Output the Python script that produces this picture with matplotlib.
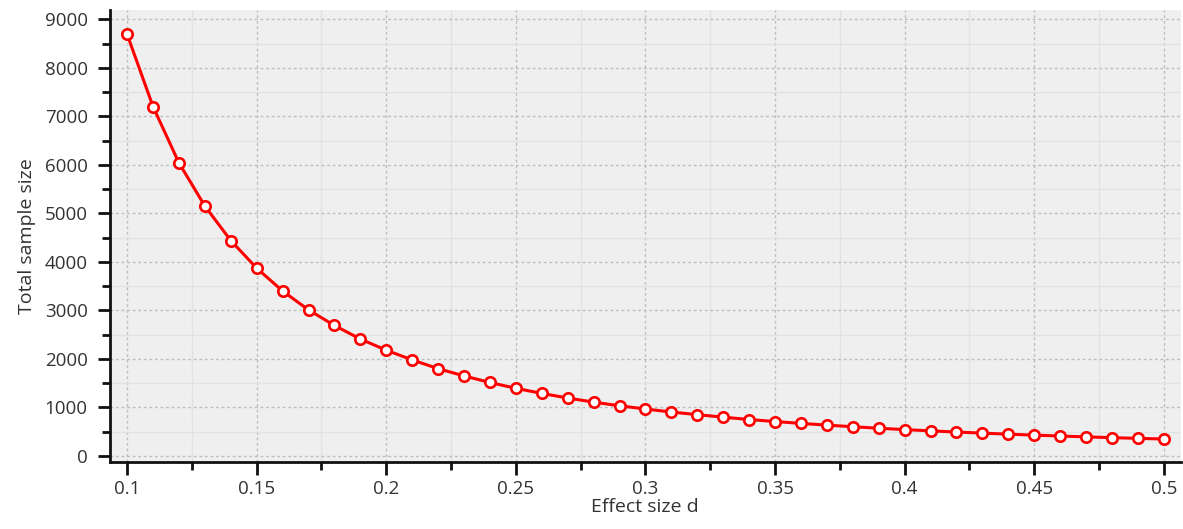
import matplotlib

matplotlib.use("Agg")
import matplotlib.pyplot as plt
from matplotlib.ticker import MultipleLocator

# values (G*Power style curve)
effect_size = [0.10, 0.11, 0.12, 0.13, 0.14, 0.15, 0.16, 0.17, 0.18, 0.19,
               0.20, 0.21, 0.22, 0.23, 0.24, 0.25, 0.26, 0.27, 0.28, 0.29,
               0.30, 0.31, 0.32, 0.33, 0.34, 0.35, 0.36, 0.37, 0.38, 0.39,
               0.40, 0.41, 0.42, 0.43, 0.44, 0.45, 0.46, 0.47, 0.48, 0.49,
               0.50]
total_n = [8690, 7200, 6040, 5150, 4440, 3870, 3400, 3010, 2690, 2410,
           2180, 1980, 1800, 1650, 1515, 1395, 1290, 1195, 1110, 1035,
           968, 906, 852, 800, 752, 710, 672, 636, 603, 572,
           544, 518, 494, 471, 450, 430, 412, 394, 378, 363,
           350]
x_ticks = [0.1, 0.15, 0.2, 0.25, 0.3, 0.35, 0.4, 0.45, 0.5]
x_labels = ["0.1", "0.15", "0.2", "0.25", "0.3", "0.35", "0.4", "0.45", "0.5"]

plt.rcParams["font.family"] = ["Open Sans", "DejaVu Sans"]

fig = plt.figure(figsize=(11.83, 5.29), dpi=100)
ax = fig.add_axes([0.093, 0.127, 0.905, 0.854])
ax.set_facecolor("#efefef")

ax.plot(effect_size, total_n, color="#ff0000", lw=2.2, marker="o", ms=7.5,
        mfc="white", mec="#ff0000", mew=1.9, zorder=3)

ax.set_xlim(0.0934, 0.5065)
ax.set_ylim(-120, 9190)
ax.set_xticks(x_ticks)
ax.set_xticklabels(x_labels)
ax.set_yticks(range(0, 9001, 1000))
ax.xaxis.set_minor_locator(MultipleLocator(0.025))
ax.yaxis.set_minor_locator(MultipleLocator(500))

ax.grid(which="major", color="#bdbdbd", lw=1, ls=(0, (2, 2)))
ax.grid(which="minor", color="#e2e2e2", lw=1, ls="-")
ax.set_axisbelow(True)

for s in ("top", "right"):
    ax.spines[s].set_visible(False)
for s in ("left", "bottom"):
    ax.spines[s].set_linewidth(2)
    ax.spines[s].set_color("#111111")

ax.tick_params(which="major", length=9, width=2, color="#111111",
               labelsize=13.5, labelcolor="#333333", pad=4)
ax.tick_params(which="minor", length=6, width=2, color="#111111")
ax.tick_params(axis="y", which="major", pad=7)

ax.set_xlabel("Effect size d", fontsize=14, color="#333333", labelpad=0)
ax.set_ylabel("Total sample size", fontsize=14, color="#333333",
              labelpad=6)

fig.savefig("out.png", dpi=100)
